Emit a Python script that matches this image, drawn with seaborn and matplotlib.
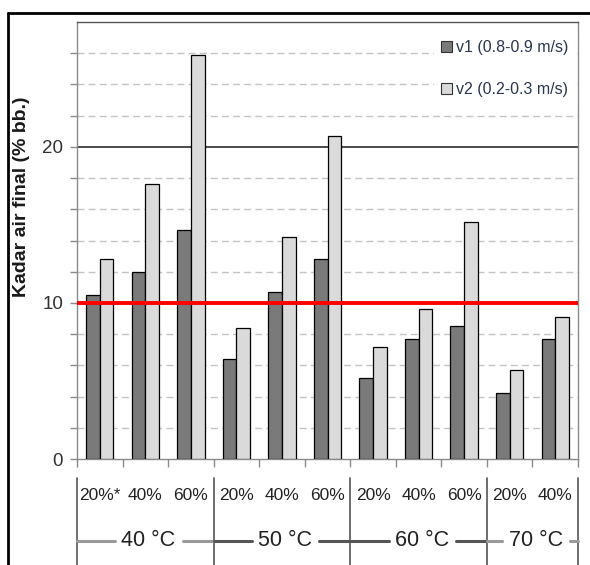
import matplotlib
matplotlib.use("Agg")
import matplotlib.pyplot as plt
from matplotlib.lines import Line2D
from matplotlib.patches import Patch
import matplotlib.transforms as mtransforms
import numpy as np
import pandas as pd
import seaborn as sns

# Drying conditions: temperature group, relative humidity label
temps = ["40 °C", "50 °C", "60 °C", "70 °C"]
group_sizes = [3, 3, 3, 2]
rh_labels = ["20%*", "40%", "60%", "20%", "40%", "60%", "20%", "40%", "60%", "20%", "40%"]
series_names = ["v1 (0.8-0.9 m/s)", "v2 (0.2-0.3 m/s)"]
# Final moisture content (% wet basis)
v1_values = [10.5, 12.0, 14.7, 6.4, 10.7, 12.8, 5.2, 7.7, 8.5, 4.2, 7.7]
v2_values = [12.8, 17.6, 25.9, 8.4, 14.2, 20.7, 7.2, 9.6, 15.2, 5.7, 9.1]
target_level = 10

sns.set_theme(style="white")
plt.rcParams["font.family"] = ["Liberation Sans Narrow", "Liberation Sans", "DejaVu Sans"]

W, H = 590, 565
fig = plt.figure(figsize=(W / 100, H / 100), dpi=100)

def fy(py):
    return 1 - py / H

ax = fig.add_axes([77 / W, fy(459), (578 - 77) / W, (459 - 22) / H])

keys = []
gi = 0
for t, n in zip(temps, group_sizes):
    for k in range(n):
        keys.append(f"{t} | {rh_labels[gi]} | {gi}")
        gi += 1

df = pd.DataFrame({
    "cond": keys * 2,
    "series": [series_names[0]] * len(keys) + [series_names[1]] * len(keys),
    "value": v1_values + v2_values,
})

palette = {series_names[0]: "#7a7a7a", series_names[1]: "#dadada"}
sns.barplot(data=df, x="cond", y="value", hue="series", order=keys,
            hue_order=series_names, palette=palette, width=0.6, gap=0,
            edgecolor="black", linewidth=0.9, saturation=1, ax=ax,
            legend=False, zorder=3)

n = len(keys)
ax.set_xlim(-0.5, n - 0.5)
ax.set_ylim(0, 28)

# horizontal grid
for yv in range(2, 28, 2):
    if yv in (10, 20):
        continue
    ax.axhline(yv, color="#c4c4c4", lw=1.0, ls=(0, (5, 3)), zorder=1)
ax.axhline(20, color="#3c3c3c", lw=1.3, zorder=1)
ax.axhline(target_level, color="#ff0000", lw=2.8, zorder=4)

for side in ["left", "right", "top", "bottom"]:
    ax.spines[side].set_color("#8a8a8a")
    ax.spines[side].set_linewidth(1.0)
ax.spines["top"].set_color("#555555")

ax.set_yticks([0, 10, 20])
ax.set_yticks(np.arange(0, 28, 2), minor=True)
ax.set_yticklabels(["0", "10", "20"], fontsize=13.5, color="#333333")
ax.tick_params(axis="y", which="both", direction="out", length=5,
               color="#8a8a8a", width=1, left=True, pad=5)
ax.set_xticks([])
ax.set_xticks(np.arange(-0.5, n, 1.0), minor=True)
ax.tick_params(axis="x", which="minor", direction="out", length=6,
               color="#8a8a8a", width=1, bottom=True)
ax.set_xlabel("")
ax.set_ylabel("")

fig.text(22 / W, fy(197), "Kadar air final (% bb.)", rotation=90,
         ha="center", va="center", fontsize=14, fontweight="bold",
         family=["Liberation Sans", "DejaVu Sans"], color="#1a1a1a")

# legend
handles = [Patch(facecolor=palette[s], edgecolor="#333333", lw=0.8, label=s)
           for s in series_names]
leg = ax.legend(handles=handles, loc="upper right", bbox_to_anchor=(0.996, 0.975),
                frameon=True, facecolor="white", edgecolor="white", framealpha=1,
                fontsize=11.5, handlelength=0.7, handleheight=0.7,
                handletextpad=0.25, labelspacing=1.7, borderpad=0.45,
                borderaxespad=0.0)
for txt in leg.get_texts():
    txt.set_color("#2b3550")
leg.set_zorder(6)

# category table below the axis
trans = mtransforms.blended_transform_factory(ax.transData, fig.transFigure)
for i, lab in enumerate(rh_labels):
    fig.text(i, fy(496), lab, transform=trans, ha="center", va="center",
             fontsize=12.5, color="#222222")

bounds = np.concatenate([[0], np.cumsum(group_sizes)]) - 0.5
for b in bounds:
    fig.add_artist(Line2D([b, b], [fy(478), 0], transform=trans,
                          color="#555555", lw=1.2))

seg_colors = ["#9a9a9a", "#555555", "#555555", "#9a9a9a"]
for k, t in enumerate(temps):
    lo, hi = bounds[k], bounds[k + 1]
    c = (lo + hi) / 2
    fig.text(c + 0.07, fy(541), t, transform=trans, ha="center", va="center",
             fontsize=15.5, color="#222222")
    fig.add_artist(Line2D([lo, c - 0.66], [fy(541), fy(541)], transform=trans,
                          color=seg_colors[k], lw=2.2))
    fig.add_artist(Line2D([c + 0.82, hi], [fy(541), fy(541)], transform=trans,
                          color=seg_colors[k], lw=2.2))

# outer frame
fig.add_artist(Line2D([8 / W, 1], [fy(13), fy(13)], transform=fig.transFigure,
                      color="black", lw=2))
fig.add_artist(Line2D([8 / W, 8 / W], [fy(13), 0], transform=fig.transFigure,
                      color="black", lw=2))

fig.savefig("out.png", dpi=100, facecolor="white")
